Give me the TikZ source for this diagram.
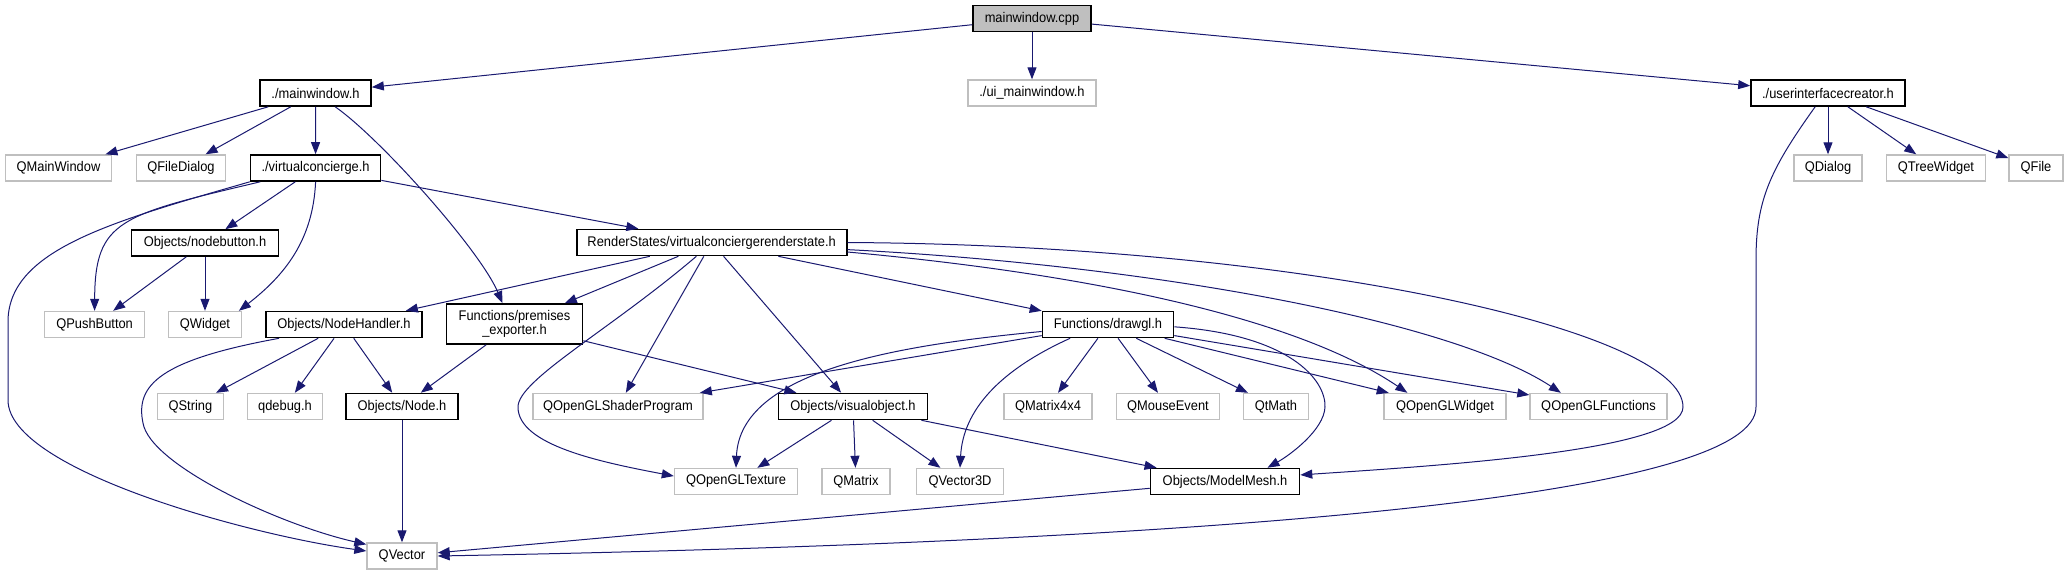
\documentclass[tikz,border=0pt]{standalone}
\usepackage{fontspec}
\setmainfont{Liberation Sans}[FakeStretch=0.92]
\usetikzlibrary{arrows.meta}
\definecolor{edgeblue}{RGB}{25,25,112}
\definecolor{extgrey}{RGB}{191,191,191}

\begin{document}
\begin{tikzpicture}[x=0.5pt,y=-0.5pt,
    box/.style={rectangle, inner sep=0pt, minimum height=13pt, font=\fontsize{7pt}{7pt}\selectfont},
    hdr/.style={box, draw=black, line width=0.8pt, fill=white},
    ext/.style={box, draw=extgrey, line width=0.7pt, fill=white},
    root/.style={box, draw=black, line width=0.8pt, fill=extgrey},
    dep/.style={draw=edgeblue, line width=0.5pt, -{Triangle[length=6pt,width=4.5pt]}}]
	\useasboundingbox (0,0) rectangle (2068,575);

	% Top rows
	\node[root, minimum width=59pt] (cpp) at (1032,18.5) {mainwindow.cpp};
	\node[hdr, minimum width=55.5pt] (mwh) at (315.5,93) {./mainwindow.h};
	\node[ext, minimum width=64pt] (ui) at (1032,93) {./ui\_mainwindow.h};
	\node[hdr, minimum width=77pt] (uic) at (1828,93) {./userinterfacecreator.h};
	\node[ext, minimum width=53pt] (qmw) at (58.5,168) {QMainWindow};
	\node[ext, minimum width=44.5pt] (qfd) at (181,168) {QFileDialog};
	\node[hdr, minimum width=65pt] (vc) at (315.6,168) {./virtualconcierge.h};
	\node[ext, minimum width=34pt] (qdlg) at (1828,168) {QDialog};
	\node[ext, minimum width=49.5pt] (qtw) at (1936,168) {QTreeWidget};
	\node[ext, minimum width=27pt] (qf) at (2036,168) {QFile};
	\node[hdr, minimum width=73.5pt] (nb) at (205,243) {Objects/nodebutton.h};
	\node[hdr, minimum width=135pt] (rs) at (711.7,242.5) {RenderStates/virtualconciergerenderstate.h};

	% Middle rows
	\node[ext, minimum width=50pt] (qpb) at (94.6,324.5) {QPushButton};
	\node[ext, minimum width=36.5pt] (qw) at (205,324.5) {QWidget};
	\node[hdr, minimum width=78pt] (nh) at (344,324.5) {Objects/NodeHandler.h};
	\node[hdr, minimum width=68pt, minimum height=20pt, align=center] (pe) at (514.5,324) {Functions/premises\\\_exporter.h};
	\node[hdr, minimum width=65.5pt] (dgl) at (1108,324.5) {Functions/drawgl.h};
	\node[ext, minimum width=33pt] (qs) at (190.4,406.5) {QString};
	\node[ext, minimum width=37.5pt] (qdbg) at (285,406.5) {qdebug.h};
	\node[hdr, minimum width=56pt] (nd) at (402,406.5) {Objects/Node.h};
	\node[ext, minimum width=85pt] (qsp) at (618,406.5) {QOpenGLShaderProgram};
	\node[hdr, minimum width=74.5pt] (vo) at (853,406.5) {Objects/visualobject.h};
	\node[ext, minimum width=44pt] (qm44) at (1048,406.5) {QMatrix4x4};
	\node[ext, minimum width=51.5pt] (qme) at (1168,406.5) {QMouseEvent};
	\node[ext, minimum width=32.5pt] (qtm) at (1276,406.5) {QtMath};
	\node[ext, minimum width=61pt] (qglw) at (1445,406.5) {QOpenGLWidget};
	\node[ext, minimum width=68.5pt] (qglf) at (1598.5,406.5) {QOpenGLFunctions};

	% Bottom rows
	\node[ext, minimum width=61.5pt] (qtex) at (736,481.5) {QOpenGLTexture};
	\node[ext, minimum width=34pt] (qmat) at (856,481.5) {QMatrix};
	\node[ext, minimum width=43.5pt] (qv3) at (960,481.5) {QVector3D};
	\node[hdr, minimum width=74.5pt] (mm) at (1225,481.5) {Objects/ModelMesh.h};
	\node[ext, minimum width=35pt] (qv) at (402,556) {QVector};

	% mainwindow.cpp
	\foreach \t in {mwh,ui,uic} \draw[dep] (cpp) -- (\t);

	% ./mainwindow.h
	\foreach \t in {qmw,qfd,vc} \draw[dep] (mwh) -- (\t);
	\draw[dep] (mwh.-35) .. controls (380,138) and (480,250) .. (pe.120);

	% ./virtualconcierge.h
	\draw[dep] (vc.south west) .. controls (110,222) and (10,250) .. (8,320) -- (8,400) .. controls (8,470) and (250,535) .. (qv.172);
	\draw[dep] (vc.-166) .. controls (120,215) and (95,220) .. (qpb.north);
	\draw[dep] (vc.south) .. controls (313,240) and (285,275) .. (qw.22);
	\foreach \t in {nb,rs} \draw[dep] (vc) -- (\t);
	\foreach \t in {qpb,qw} \draw[dep] (nb) -- (\t);

	% RenderStates/virtualconciergerenderstate.h
	\foreach \t in {nh,pe,qsp,vo,dgl} \draw[dep] (rs) -- (\t);
	\draw[dep] (rs.-138) .. controls (610,330) and (518,380) .. (518,407) .. controls (518,445) and (600,462) .. (qtex.175);
	\draw[dep] (rs.-4) .. controls (1100,275) and (1300,320) .. (qglw.160);
	\draw[dep] (rs.-3) .. controls (1150,265) and (1450,320) .. (qglf.160);
	\draw[dep] (rs.east) .. controls (1300,245) and (1683,330) .. (1683,407) .. controls (1683,450) and (1450,465) .. (mm.5);

	% Objects/NodeHandler.h, premises_exporter.h, Node.h
	\foreach \t in {qs,qdbg,nd} \draw[dep] (nh) -- (\t);
	\draw[dep] (nh.-168) .. controls (160,360) and (135,385) .. (143,423) .. controls (150,465) and (280,525) .. (qv.162);
	\foreach \t in {nd,vo} \draw[dep] (pe) -- (\t);
	\draw[dep] (nd) -- (qv);

	% Functions/drawgl.h
	\foreach \t in {qsp,qm44,qme,qtm,qglw,qglf} \draw[dep] (dgl) -- (\t);
	\draw[dep] (dgl.-174) .. controls (900,345) and (740,370) .. (qtex.north);
	\draw[dep] (dgl.-160) .. controls (1000,370) and (963,410) .. (qv3.north);
	\draw[dep] (dgl.-2) .. controls (1290,335) and (1326,380) .. (1325,407) .. controls (1324,430) and (1290,455) .. (mm.18);

	% Objects/visualobject.h, ModelMesh.h
	\foreach \t in {qtex,qmat,qv3,mm} \draw[dep] (vo) -- (\t);
	\draw[dep] (mm) -- (qv);

	% ./userinterfacecreator.h
	\foreach \t in {qdlg,qtw,qf} \draw[dep] (uic) -- (\t);
	\draw[dep] (uic.-133) .. controls (1770,170) and (1756,200) .. (1756,260) -- (1756,407) .. controls (1756,490) and (1300,540) .. (qv.east);
\end{tikzpicture}
\end{document}
